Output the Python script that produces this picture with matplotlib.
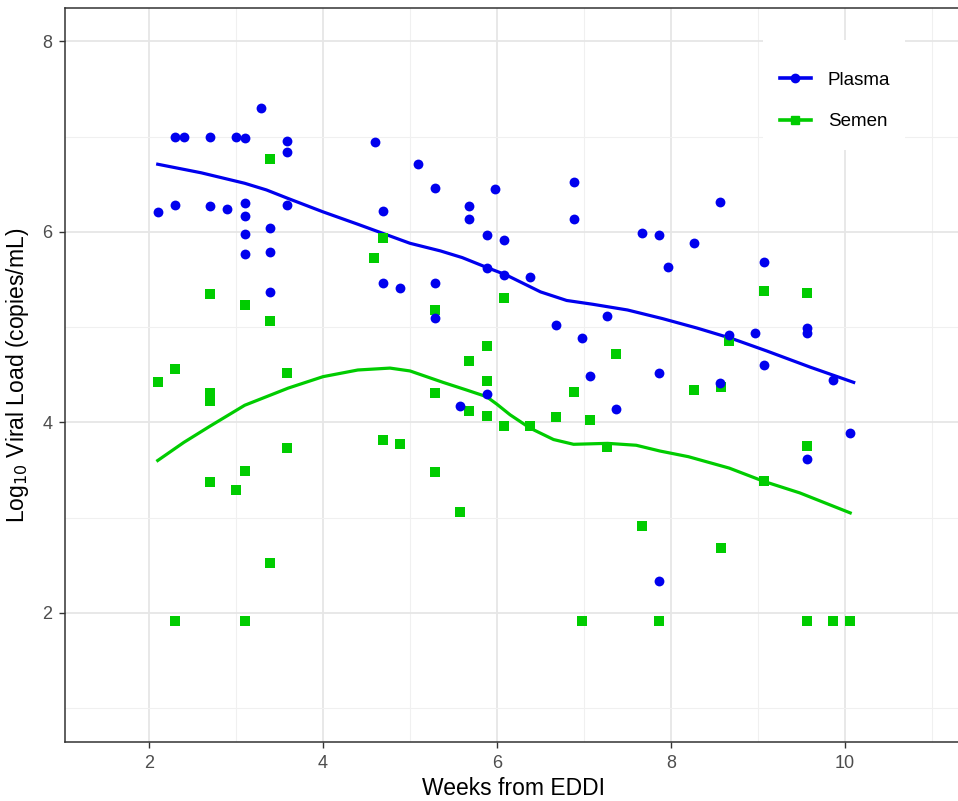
import numpy as np
import matplotlib
matplotlib.use("Agg")
import matplotlib.pyplot as plt
from matplotlib.patches import Rectangle
from matplotlib.ticker import MultipleLocator

plt.rcParams['font.family'] = ['Liberation Sans', 'DejaVu Sans']

# plasma observations (weeks, log10 copies/mL)
plasma_x = [2.1, 2.3, 2.3, 2.4, 2.7, 2.7, 2.9, 3.0, 3.1, 3.1, 3.1, 3.1, 3.1,
            3.29, 3.39, 3.39, 3.39, 3.59, 3.59, 3.59, 4.6, 4.69, 4.69, 4.89,
            5.09, 5.29, 5.29, 5.29, 5.58, 5.68, 5.68, 5.88, 5.88, 5.88, 5.98,
            6.08, 6.08, 6.38, 6.68, 6.88, 6.88, 6.98, 7.07, 7.27, 7.37, 7.67,
            7.86, 7.86, 7.86, 7.97, 8.27, 8.56, 8.56, 8.67, 8.97, 9.07, 9.07,
            9.56, 9.56, 9.56, 9.86, 10.06]
plasma_y = [6.21, 6.28, 7.0, 7.0, 7.0, 6.27, 6.24, 7.0, 6.99, 6.30, 6.17, 5.98, 5.77,
            7.30, 6.04, 5.79, 5.37, 6.95, 6.84, 6.28, 6.94, 6.22, 5.46, 5.41,
            6.71, 6.46, 5.46, 5.10, 4.17, 6.27, 6.13, 5.97, 5.62, 4.30, 6.45,
            5.91, 5.55, 5.53, 5.02, 6.52, 6.13, 4.89, 4.49, 5.12, 4.14, 5.99,
            5.97, 4.52, 2.34, 5.63, 5.88, 6.31, 4.41, 4.92, 4.94, 5.68, 4.60,
            4.99, 4.94, 3.62, 4.45, 3.89]

# semen observations
semen_x = [2.1, 2.3, 2.3, 2.7, 2.7, 2.7, 2.7, 3.0, 3.1, 3.1, 3.1, 3.39, 3.39,
           3.39, 3.59, 3.59, 4.59, 4.69, 4.69, 4.89, 5.29, 5.29, 5.29, 5.58,
           5.68, 5.68, 5.88, 5.88, 5.88, 6.08, 6.08, 6.38, 6.68, 6.88, 6.98,
           7.07, 7.27, 7.37, 7.67, 7.86, 8.27, 8.57, 8.57, 8.67, 9.07, 9.07,
           9.56, 9.56, 9.56, 9.86, 10.06]
semen_y = [4.42, 4.56, 1.91, 5.35, 4.31, 4.22, 3.37, 3.29, 5.23, 3.49, 1.91, 6.76, 5.06,
           2.52, 4.52, 3.73, 5.73, 5.94, 3.81, 3.77, 5.18, 4.31, 3.48, 3.06,
           4.64, 4.12, 4.80, 4.43, 4.07, 5.31, 3.96, 3.96, 4.06, 4.32, 1.91,
           4.02, 3.74, 4.72, 2.91, 1.91, 4.34, 4.37, 2.68, 4.85, 5.38, 3.38,
           5.36, 3.75, 1.91, 1.91, 1.91]

# smoothed trend lines
plasma_fit_x = [2.1, 2.6, 3.1, 3.35, 3.6, 4.0, 4.4, 4.7, 5.0, 5.35, 5.6, 5.9, 6.1, 6.3,
                6.5, 6.8, 7.1, 7.5, 7.9, 8.3, 8.7, 9.1, 9.6, 10.1]
plasma_fit_y = [6.71, 6.62, 6.51, 6.44, 6.35, 6.21, 6.08, 5.98, 5.88, 5.80, 5.73, 5.62,
                5.55, 5.46, 5.37, 5.28, 5.24, 5.18, 5.09, 4.99, 4.88, 4.75, 4.58, 4.42]
semen_fit_x = [2.1, 2.4, 2.7, 3.1, 3.6, 4.0, 4.4, 4.77, 5.0, 5.38, 5.65, 5.88, 6.0,
               6.15, 6.38, 6.65, 6.88, 7.27, 7.6, 7.87, 8.2, 8.67, 9.07, 9.48, 10.06]
semen_fit_y = [3.60, 3.79, 3.96, 4.18, 4.36, 4.48, 4.55, 4.57, 4.54, 4.42, 4.34,
               4.27, 4.19, 4.08, 3.94, 3.82, 3.77, 3.78, 3.76, 3.70, 3.64, 3.52,
               3.38, 3.26, 3.05]

blue = '#0000ee'
green = '#00cc00'

fig = plt.figure(figsize=(9.58, 8.01), dpi=100)
ax = fig.add_axes([65 / 958, 59 / 801, 897 / 958, 734 / 801])

ax.plot(plasma_fit_x, plasma_fit_y, color=blue, lw=2.3, zorder=3)
ax.plot(semen_fit_x, semen_fit_y, color=green, lw=2.3, zorder=3)
ax.scatter(semen_x, semen_y, marker='s', s=42, color=green, lw=0, zorder=4)
ax.scatter(plasma_x, plasma_y, marker='o', s=50, color=blue, lw=0, zorder=4)

ax.set_xlim(1.034, 11.345)
ax.set_ylim(0.645, 8.35)
ax.xaxis.set_major_locator(MultipleLocator(2))
ax.xaxis.set_minor_locator(MultipleLocator(1))
ax.yaxis.set_major_locator(MultipleLocator(2))
ax.yaxis.set_minor_locator(MultipleLocator(1))
ax.grid(which='major', color='#e6e6e6', lw=1.3)
ax.grid(which='minor', color='#f0f0f0', lw=0.8)
ax.set_axisbelow(True)
ax.tick_params(which='minor', length=0)
ax.tick_params(which='major', length=4, width=1, color='#333333',
               labelcolor='#4d4d4d', labelsize=13, pad=5)
for s in ['left', 'bottom', 'top']:
    ax.spines[s].set_color('#333333')
    ax.spines[s].set_linewidth(1.1)
ax.spines['right'].set_visible(False)

ax.set_xlabel('Weeks from EDDI', fontsize=16.5, labelpad=4)
ax.set_ylabel('Log$_{10}$ Viral Load (copies/mL)', fontsize=16.5, labelpad=8)

# white legend background box
ax.add_patch(Rectangle((763 / 958, 1 - 150 / 801), 142 / 958, 110 / 801,
                       transform=fig.transFigure, facecolor='white',
                       edgecolor='none', zorder=1))

h1, = ax.plot([], [], color=blue, lw=2.6, marker='o', ms=6)
h2, = ax.plot([], [], color=green, lw=2.6, marker='s', ms=6)
leg = ax.legend([h1, h2], ['Plasma', 'Semen'], loc='center',
                bbox_to_anchor=(835 / 958, 1 - 101 / 801), bbox_transform=fig.transFigure,
                frameon=False, fontsize=13.5, handlelength=1.65, handletextpad=0.9,
                labelspacing=1.3, borderpad=0.5, borderaxespad=0)

fig.savefig('out.png', dpi=100)
